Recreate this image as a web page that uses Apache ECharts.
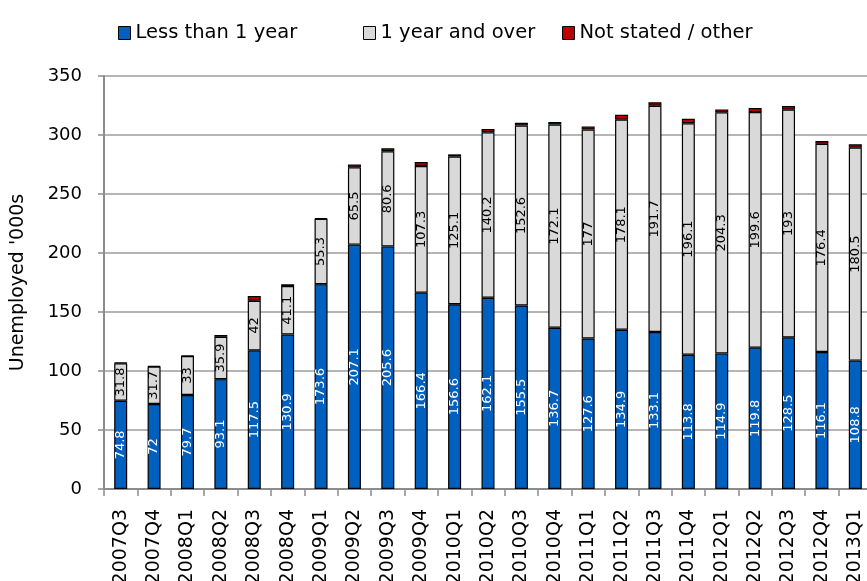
<!DOCTYPE html>
<html>
<head>
<meta charset="utf-8">
<script src="https://cdn.jsdelivr.net/npm/echarts@6/dist/echarts.min.js"></script>
<style>
html, body { margin: 0; padding: 0; background: #fff; }
#main { width: 867px; height: 581px; }
</style>
</head>
<body>
<div id="main"></div>
<script>
var quarters = ['2007Q3', '2007Q4', '2008Q1', '2008Q2', '2008Q3', '2008Q4', '2009Q1', '2009Q2',
	'2009Q3', '2009Q4', '2010Q1', '2010Q2', '2010Q3', '2010Q4', '2011Q1', '2011Q2', '2011Q3',
	'2011Q4', '2012Q1', '2012Q2', '2012Q3', '2012Q4', '2013Q1'];
var lessThanYear = [74.8, 72, 79.7, 93.1, 117.5, 130.9, 173.6, 207.1, 205.6, 166.4, 156.6, 162.1,
	155.5, 136.7, 127.6, 134.9, 133.1, 113.8, 114.9, 119.8, 128.5, 116.1, 108.8];
var yearAndOver = [31.8, 31.7, 33, 35.9, 42, 41.1, 55.3, 65.5, 80.6, 107.3, 125.1, 140.2,
	152.6, 172.1, 177, 178.1, 191.7, 196.1, 204.3, 199.6, 193, 176.4, 180.5];
// not labelled on the chart, read off the bar tops
var notStated = [0.5, 0.5, 0.4, 1.5, 4.1, 1.5, 0.5, 2.3, 2.5, 3.4, 1.9, 2.8,
	2.3, 2.2, 2.7, 4.2, 2.9, 3.9, 2.5, 3.5, 3.1, 2.4, 2.8];
var yTicks = { min: 0, max: 350, interval: 50 };

var font = 'DejaVu Sans';
var chart = echarts.init(document.getElementById('main'));

function legendAt(x, name) {
	return {
		left: x,
		top: 18,
		data: [name],
		itemWidth: 12,
		itemHeight: 13,
		icon: 'rect',
		itemStyle: { borderColor: '#000', borderWidth: 1 },
		textStyle: { fontFamily: font, fontSize: 19.5, color: '#000' }
	};
}

chart.setOption({
	animation: false,
	legend: [
		legendAt(113, 'Less than 1 year'),
		legendAt(358, '1 year and over'),
		legendAt(557, 'Not stated / other')
	],
	grid: { left: 104, right: -5, top: 76, bottom: 92, containLabel: false, outerBoundsMode: 'none' },
	xAxis: {
		type: 'category',
		data: quarters,
		axisLine: { lineStyle: { color: '#8c8c8c', width: 2 } },
		axisTick: { show: true, interval: 0, length: 7, lineStyle: { color: '#8c8c8c', width: 1.5 } },
		axisLabel: { interval: 0, rotate: 90, margin: 20, fontFamily: font, fontSize: 19, color: '#000' }
	},
	yAxis: {
		type: 'value',
		min: yTicks.min,
		max: yTicks.max,
		interval: yTicks.interval,
		name: "Unemployed '000s",
		nameLocation: 'middle',
		nameRotate: 90,
		nameGap: 76,
		nameTextStyle: { fontFamily: font, fontSize: 19, color: '#000' },
		axisLine: { show: true, lineStyle: { color: '#8c8c8c', width: 2 } },
		axisTick: { show: true, length: 6, lineStyle: { color: '#8c8c8c', width: 1.5 } },
		axisLabel: { margin: 22, fontFamily: font, fontSize: 18, color: '#000' },
		splitLine: { lineStyle: { color: '#9c9c9c', width: 1.5 } }
	},
	series: [
		{
			name: 'Less than 1 year',
			type: 'bar',
			stack: 'total',
			barWidth: 13,
			data: lessThanYear,
			itemStyle: { color: '#0060c0', borderColor: '#000', borderWidth: 1.2 },
			label: { show: true, position: 'inside', rotate: 90, fontFamily: font, fontSize: 13, color: '#fff' }
		},
		{
			name: '1 year and over',
			type: 'bar',
			stack: 'total',
			data: yearAndOver,
			itemStyle: { color: '#d9d9d9', borderColor: '#000', borderWidth: 1.2 },
			label: { show: true, position: 'inside', rotate: 90, fontFamily: font, fontSize: 13, color: '#000' }
		},
		{
			name: 'Not stated / other',
			type: 'bar',
			stack: 'total',
			data: notStated,
			itemStyle: { color: '#c00000', borderColor: '#000', borderWidth: 1.2 }
		}
	]
});
</script>
</body>
</html>
